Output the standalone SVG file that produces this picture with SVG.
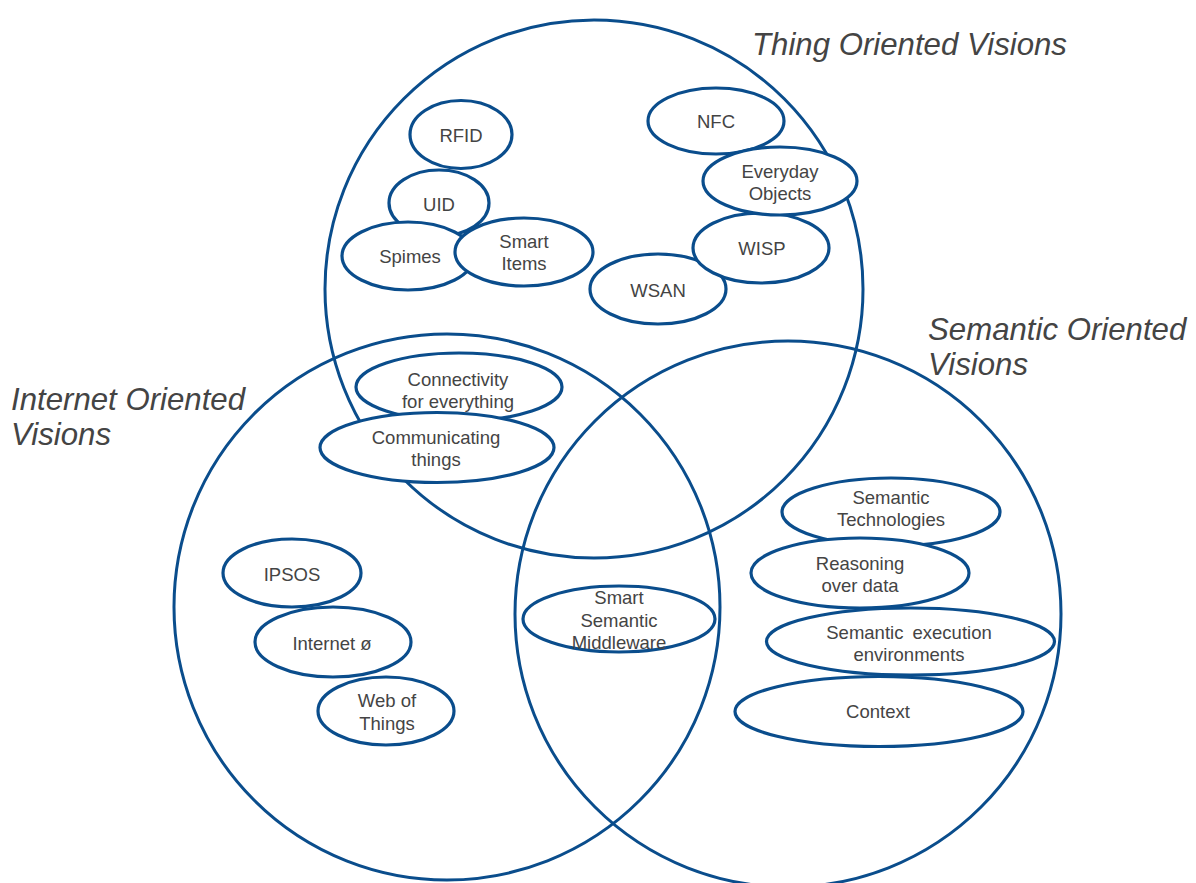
<svg xmlns="http://www.w3.org/2000/svg" width="1196" height="883" viewBox="0 0 1196 883">
<style>
.big{fill:none;stroke:#0a4d8c;stroke-width:3}
.n ellipse{fill:#fff;stroke:#0a4d8c;stroke-width:3.2}
.n text{font-family:"Liberation Sans",Arial,sans-serif;font-size:18.5px;fill:#444;text-anchor:middle}
.t{font-family:"Liberation Sans",Arial,sans-serif;font-size:31.2px;font-style:italic;fill:#444}
</style>
<rect width="1196" height="883" fill="#fff"/>
<g id="circles">
<circle class="big" cx="594" cy="289" r="269"/>
<circle class="big" cx="447" cy="607" r="273"/>
<circle class="big" cx="788" cy="614" r="273"/>
</g>
<g id="titles">
<text class="t" x="752" y="55">Thing Oriented Visions</text>
<text class="t" x="928" y="340">Semantic Oriented</text>
<text class="t" x="928" y="375">Visions</text>
<text class="t" x="11" y="410">Internet Oriented</text>
<text class="t" x="11" y="445">Visions</text>
</g>
<g id="uid" class="n"><ellipse cx="439" cy="203" rx="50" ry="33"/><text x="439" y="210.5">UID</text></g>
<g id="rfid" class="n"><ellipse cx="461" cy="134.5" rx="51" ry="34"/><text x="461" y="141.5">RFID</text></g>
<g id="spimes" class="n"><ellipse cx="408" cy="256" rx="66" ry="34"/><text x="410" y="262.5">Spimes</text></g>
<g id="smart-items" class="n"><ellipse cx="524" cy="252" rx="69" ry="34"/><text x="524" y="248">Smart</text><text x="524" y="270">Items</text></g>
<g id="wsan" class="n"><ellipse cx="658" cy="289" rx="68" ry="35"/><text x="658" y="296.5">WSAN</text></g>
<g id="nfc" class="n"><ellipse cx="716" cy="121" rx="68" ry="33"/><text x="716" y="127.5">NFC</text></g>
<g id="wisp" class="n"><ellipse cx="761" cy="248" rx="68" ry="35"/><text x="762" y="254.5">WISP</text></g>
<g id="everyday-objects" class="n"><ellipse cx="780" cy="181" rx="77" ry="34"/><text x="780" y="178">Everyday</text><text x="780" y="200">Objects</text></g>
<g id="connectivity" class="n"><ellipse cx="459" cy="387" rx="103" ry="34"/><text x="458" y="386">Connectivity</text><text x="458" y="408">for everything</text></g>
<g id="communicating" class="n"><ellipse cx="437" cy="447.5" rx="117" ry="35"/><text x="436" y="444">Communicating</text><text x="436" y="466">things</text></g>
<g id="ipsos" class="n"><ellipse cx="292" cy="573" rx="69" ry="34"/><text x="292" y="580.5">IPSOS</text></g>
<g id="internet-zero" class="n"><ellipse cx="333" cy="642" rx="78" ry="35"/><text x="332" y="649.5">Internet ø</text></g>
<g id="web-of-things" class="n"><ellipse cx="386" cy="711" rx="68" ry="34"/><text x="387" y="706.5">Web of</text><text x="387" y="729.5">Things</text></g>
<g id="middleware" class="n"><ellipse cx="619" cy="619" rx="96" ry="33"/><text x="619" y="604">Smart</text><text x="619" y="626.5">Semantic</text><text x="619" y="649">Middleware</text></g>
<g id="semantic-tech" class="n"><ellipse cx="891" cy="512" rx="109" ry="34"/><text x="891" y="504">Semantic</text><text x="891" y="526">Technologies</text></g>
<g id="reasoning" class="n"><ellipse cx="860" cy="573" rx="109" ry="35"/><text x="860" y="570">Reasoning</text><text x="860" y="592">over data</text></g>
<g id="sem-exec" class="n"><ellipse cx="910.5" cy="641.5" rx="144" ry="33.5"/><text x="909" y="639" word-spacing="4">Semantic execution</text><text x="909" y="661">environments</text></g>
<g id="context" class="n"><ellipse cx="879" cy="711.5" rx="144" ry="35"/><text x="878" y="718">Context</text></g>
</svg>
